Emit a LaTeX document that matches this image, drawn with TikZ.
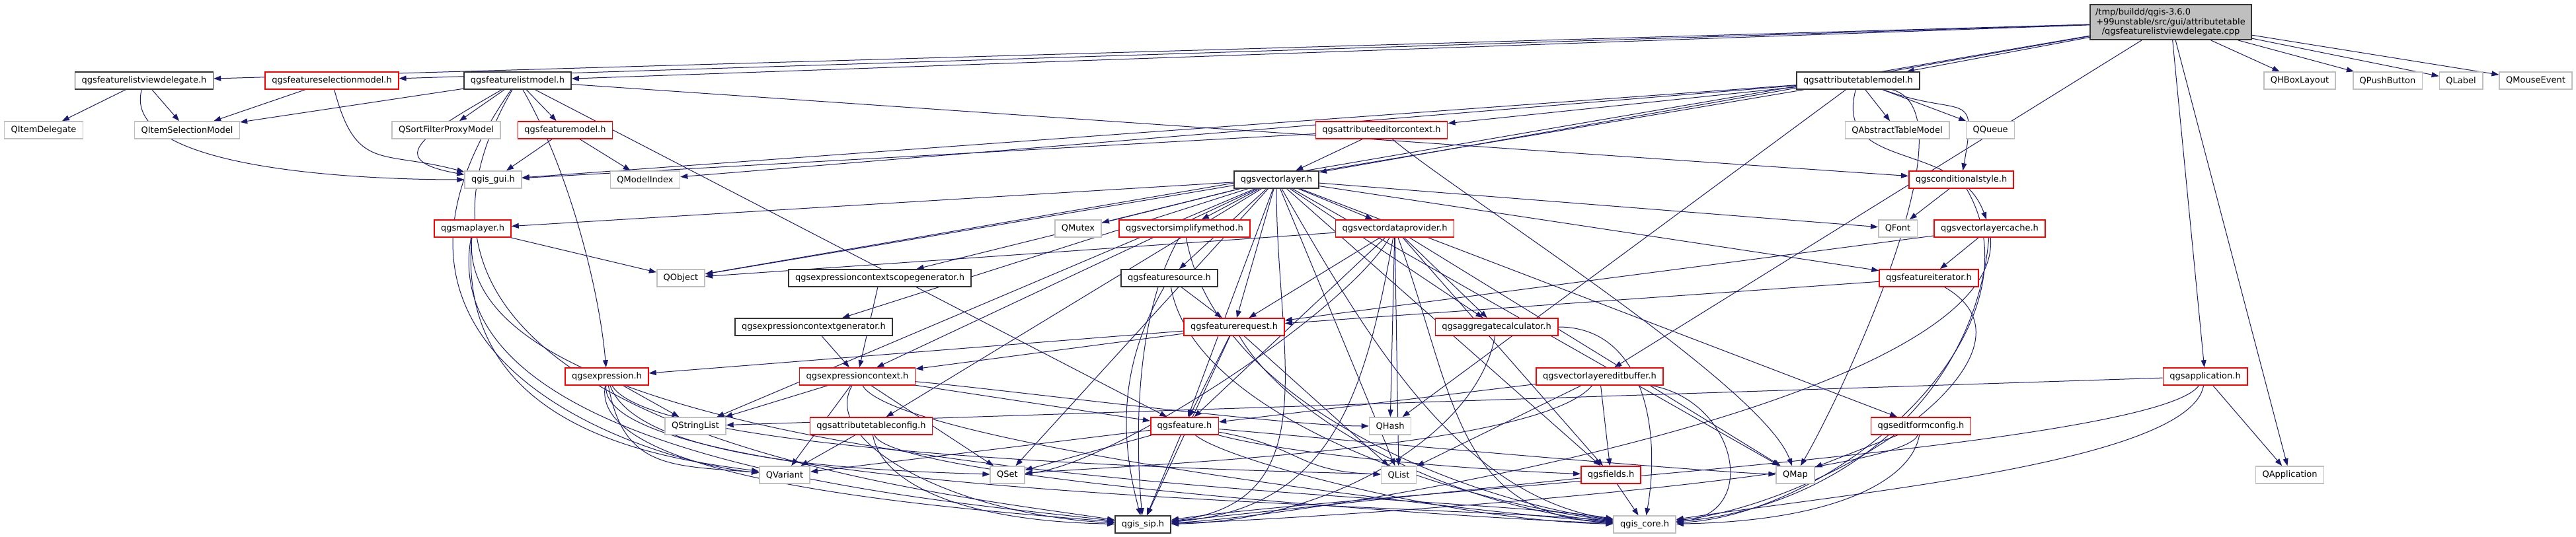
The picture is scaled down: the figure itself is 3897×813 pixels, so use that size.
\documentclass[tikz,border=0pt]{standalone}
\usepackage{fontspec}
\setmainfont{DejaVu Sans}
\usetikzlibrary{arrows.meta, backgrounds}
\definecolor{edgeblue}{HTML}{191970}
\definecolor{extgrey}{HTML}{BFBFBF}
\definecolor{truncred}{HTML}{FF0000}

\begin{document}
\begin{tikzpicture}[
    x=1pt, y=-1pt,
    file/.style={draw, fill=white, line width=1.6pt, minimum height=26pt, inner xsep=10pt, inner ysep=2pt, font=\fontsize{13}{14.5}\selectfont},
    ext/.style={file, draw=extgrey},
    trunc/.style={file, draw=truncred},
    full/.style={file, draw=black!80},
    arr/.style={-{Triangle[length=11pt, width=8pt]}, edgeblue, line width=1pt},
]
\useasboundingbox (0,0) rectangle (3897,813);

% Source file
\node[file, fill=extgrey, draw=black!80, align=center, text width=228pt, inner xsep=8pt, inner ysep=6pt] (root) at (3284,33.5)
    {/tmp/buildd/qgis-3.6.0\hfill\mbox{}\\+99unstable/src/gui/attributetable\\/qgsfeaturelistviewdelegate.cpp};

% Rank 1
\node[full] (fldel) at (218,122) {qgsfeaturelistviewdelegate.h};
\node[trunc] (fsel) at (502,122) {qgsfeatureselectionmodel.h};
\node[full] (flm) at (783,122) {qgsfeaturelistmodel.h};
\node[full] (atm) at (2811,122) {qgsattributetablemodel.h};
\node[ext] (qhbox) at (3479,122) {QHBoxLayout};
\node[ext] (qpush) at (3612,122) {QPushButton};
\node[ext] (qlabel) at (3723,122) {QLabel};
\node[ext] (qmouse) at (3836,122) {QMouseEvent};

% Rank 2
\node[ext] (qitemdel) at (66,197) {QItemDelegate};
\node[ext] (qitemsel) at (283,197) {QItemSelectionModel};
\node[ext] (qsortf) at (675,197) {QSortFilterProxyModel};
\node[trunc] (fmodel) at (855,197) {qgsfeaturemodel.h};
\node[trunc] (aectx) at (2090,197) {qgsattributeeditorcontext.h};
\node[ext] (qabstable) at (2870,197) {QAbstractTableModel};
\node[ext] (qqueue) at (3011,197) {QQueue};

% Rank 3
\node[ext] (qgisgui) at (746,272) {qgis\_gui.h};
\node[ext] (qmodelidx) at (976,272) {QModelIndex};
\node[full] (vlayer) at (1931,272) {qgsvectorlayer.h};
\node[trunc] (condstyle) at (2967,272) {qgsconditionalstyle.h};

% Rank 4
\node[trunc] (maplayer) at (715,346) {qgsmaplayer.h};
\node[ext] (qmutex) at (1631,346) {QMutex};
\node[trunc] (simplify) at (1792,346) {qgsvectorsimplifymethod.h};
\node[trunc] (vdp) at (2110,346) {qgsvectordataprovider.h};
\node[ext] (qfont) at (2871,346) {QFont};
\node[trunc] (vlcache) at (3010,346) {qgsvectorlayercache.h};

% Rank 5
\node[ext] (qobject) at (1030,421) {QObject};
\node[full] (ecsg) at (1331,421) {qgsexpressioncontextscopegenerator.h};
\node[full] (fsource) at (1769,421) {qgsfeaturesource.h};
\node[trunc] (fiter) at (2918,421) {qgsfeatureiterator.h};

% Rank 6
\node[full] (ecg) at (1231,495) {qgsexpressioncontextgenerator.h};
\node[trunc] (freq) at (1867,495) {qgsfeaturerequest.h};
\node[trunc] (aggcalc) at (2264,495) {qgsaggregatecalculator.h};

% Rank 7
\node[trunc] (expr) at (918,570) {qgsexpression.h};
\node[trunc] (ectx) at (1297,570) {qgsexpressioncontext.h};
\node[trunc] (editbuf) at (2420,570) {qgsvectorlayereditbuffer.h};
\node[trunc] (app) at (3336,570) {qgsapplication.h};

% Rank 8
\node[ext] (qstrlist) at (1052,645) {QStringList};
\node[trunc] (atconf) at (1318,645) {qgsattributetableconfig.h};
\node[trunc] (feature) at (1792,645) {qgsfeature.h};
\node[ext] (qhash) at (2103,645) {QHash};
\node[trunc] (efconf) at (2906,645) {qgseditformconfig.h};

% Rank 9
\node[ext] (qvariant) at (1187,719) {QVariant};
\node[ext] (qset) at (1524,719) {QSet};
\node[ext] (qlist) at (2116,719) {QList};
\node[trunc] (fields) at (2437,719) {qgsfields.h};
\node[ext] (qmap) at (2716,719) {QMap};
\node[ext] (qapp) at (3464,719) {QApplication};

% Rank 10
\node[full] (qgissip) at (1729,794) {qgis\_sip.h};
\node[ext] (qgiscore) at (2488,794) {qgis\_core.h};

\begin{scope}[on background layer]
% Straight includes
\foreach \t in {fldel,fsel,flm,atm,qhbox,qpush,qlabel,qmouse,vlayer,editbuf,app,qapp,qobject}
    \draw[arr] (root) -- (\t);
\foreach \t in {qitemdel,qitemsel} \draw[arr] (fldel) -- (\t);
\draw[arr] (fsel) -- (qitemsel);
\foreach \t in {qitemsel,qsortf,fmodel,condstyle,feature} \draw[arr] (flm) -- (\t);
\foreach \t in {qgisgui,qmodelidx} \draw[arr] (fmodel) -- (\t);
\foreach \t in {qabstable,qqueue,aectx,qgisgui,qmodelidx,qobject,qhash} \draw[arr] (atm) -- (\t);
\foreach \t in {vlayer,qgisgui} \draw[arr] (aectx) -- (\t);
\draw[arr] (condstyle) -- (qfont);
\foreach \t in {maplayer,qmutex,simplify,vdp,qfont,fiter,fsource,freq,ecsg,ecg,ectx,atconf,aggcalc,feature,fields,efconf,qmap,qset,qlist,qstrlist}
    \draw[arr] (vlayer) -- (\t);
\foreach \t in {qobject,freq,feature,aggcalc,fields,qhash,qlist,qmap} \draw[arr] (vdp) -- (\t);
\foreach \t in {fiter,freq} \draw[arr] (vlcache) -- (\t);
\draw[arr] (maplayer) -- (qobject);
\draw[arr] (fsource) -- (freq);
\draw[arr] (fiter) -- (freq);
\draw[arr] (ecsg) -- (ectx);
\draw[arr] (ecg) -- (ectx);
\foreach \t in {expr,ectx,feature,qlist,qgissip} \draw[arr] (freq) -- (\t);
\draw[arr] (expr) -- (qstrlist);
\foreach \t in {qstrlist,qvariant,qset,feature} \draw[arr] (ectx) -- (\t);
\foreach \t in {feature,qlist,fields} \draw[arr] (editbuf) -- (\t);
\foreach \t in {qstrlist,qapp} \draw[arr] (app) -- (\t);
\draw[arr] (atconf) -- (qvariant);
\foreach \t in {qvariant,qset,qgissip} \draw[arr] (feature) -- (\t);
\draw[arr] (efconf) -- (qmap);
\foreach \t in {qgiscore,qgissip} \draw[arr] (fields) -- (\t);

% Curved includes
\foreach \s/\t/\o/\l/\i in {fldel/qgisgui/-105/130/180, fsel/qgisgui/-75/130/165, flm/qgisgui/-150/130/170,
    flm/expr/-60/130/95, flm/qvariant/-125/520/175, atm/condstyle/-20/130/80, atm/vlcache/-105/130/110,
    atm/qmap/-15/130/60, aectx/qmap/-40/130/110, maplayer/qvariant/-95/300/172, simplify/qgissip/-120/130/95,
    vdp/qset/-120/130/5, fsource/qgissip/-120/130/105, aggcalc/qgiscore/0/130/80, expr/qvariant/-80/130/175,
    expr/qset/-70/130/178, expr/qlist/-60/130/178, ectx/qhash/-5/130/180, editbuf/qset/-130/130/5,
    editbuf/qgiscore/-10/130/5, feature/qlist/-10/130/178, feature/fields/-15/130/178, feature/qmap/-5/130/178}
    \draw[arr] (\s.\o) .. controls +(\o:\l pt) and +(\i:130pt) .. (\t.\i);

% Into qgis_sip.h
\foreach \s/\o/\l/\i in {flm/-120/600/171, maplayer/-100/350/173, expr/-100/150/175, ectx/-120/100/177, atconf/-80/70/179,
    vlayer/-90/250/7, vlcache/-85/250/3, vdp/-100/250/5, aggcalc/-100/150/1, app/-125/120/9, efconf/-110/70/2}
    \draw[arr] (\s.\o) .. controls +(\o:\l pt) and +(\i:240pt) .. (qgissip.\i);

% Into qgis_core.h
\foreach \s/\o/\l/\i in {maplayer/-95/380/170, simplify/-80/250/172, expr/-95/170/174, ectx/-60/100/176, atconf/-70/70/178,
    feature/-40/60/179, fsource/-80/200/173, freq/-60/150/175, vdp/-70/250/177, vlayer/-60/250/171,
    condstyle/-60/250/3, vlcache/-95/250/5, fiter/-30/200/7, efconf/-100/70/1, app/-100/120/9}
    \draw[arr] (\s.\o) .. controls +(\o:\l pt) and +(\i:240pt) .. (qgiscore.\i);
\end{scope}
\end{tikzpicture}
\end{document}
